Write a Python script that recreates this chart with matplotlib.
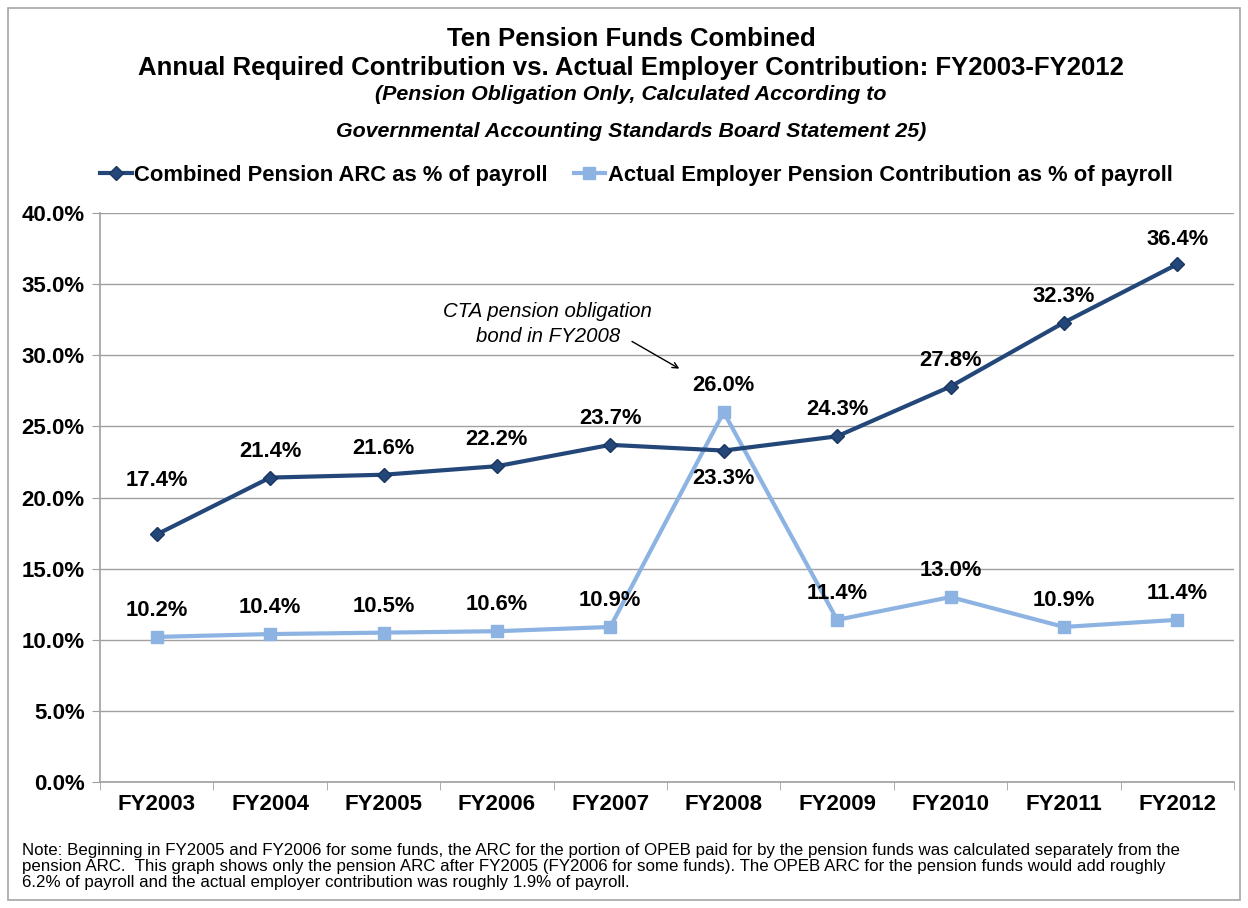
import matplotlib
matplotlib.use("Agg")
import matplotlib.pyplot as plt
from matplotlib.patches import Rectangle
from matplotlib.lines import Line2D
from matplotlib.ticker import FuncFormatter, FixedLocator

plt.rcParams['font.family'] = ['Liberation Sans', 'DejaVu Sans']

years = ["FY2003", "FY2004", "FY2005", "FY2006", "FY2007",
         "FY2008", "FY2009", "FY2010", "FY2011", "FY2012"]
arc = [17.4, 21.4, 21.6, 22.2, 23.7, 23.3, 24.3, 27.8, 32.3, 36.4]
actual = [10.2, 10.4, 10.5, 10.6, 10.9, 26.0, 11.4, 13.0, 10.9, 11.4]

# label offsets in points (most above, a couple moved by hand)
arc_off = [39, 19, 19, 19, 19, -20, 19, 19, 19, 18]
act_off = [19, 19, 19, 19, 19, 19, 19, 19, 19, 19]

dark = "#24477A"
light = "#8DB3E2"

fig = plt.figure(figsize=(12.48, 9.08), dpi=100)
fig.patches.append(Rectangle((8 / 1248, 8 / 908), 1232 / 1248, 892 / 908,
                             transform=fig.transFigure, fill=False,
                             edgecolor="#A6A6A6", linewidth=1.2))

ax = fig.add_axes([100 / 1248, 1 - 782 / 908, 1134 / 1248, (782 - 213) / 908])
x = list(range(len(years)))

ax.plot(x, actual, color=light, linewidth=3, marker="s", markersize=9,
        markerfacecolor=light, markeredgecolor=light, zorder=3)
ax.plot(x, arc, color=dark, linewidth=3, marker="D", markersize=7,
        markerfacecolor=dark, markeredgecolor="#1A3560", zorder=4)

for i in x:
    ax.annotate(f"{arc[i]:.1f}%", (i, arc[i]), xytext=(0, arc_off[i]),
                textcoords="offset points", ha="center", va="center",
                fontsize=15.8, fontweight="bold", color="black", zorder=5)
    ax.annotate(f"{actual[i]:.1f}%", (i, actual[i]), xytext=(0, act_off[i]),
                textcoords="offset points", ha="center", va="center",
                fontsize=15.8, fontweight="bold", color="black", zorder=5)

ax.set_xlim(-0.5, len(years) - 0.5)
ax.set_ylim(0, 40)
ax.yaxis.set_major_locator(FixedLocator([0, 5, 10, 15, 20, 25, 30, 35, 40]))
ax.yaxis.set_major_formatter(FuncFormatter(lambda v, p: f"{v:.1f}%"))
ax.set_xticks(x)
ax.set_xticklabels(years)
ax.set_xticks([i - 0.5 for i in range(len(years) + 1)], minor=True)
ax.tick_params(axis="x", which="major", length=0, pad=9)
ax.tick_params(axis="x", which="minor", length=6, color="#A0A0A0")
ax.tick_params(axis="y", length=6, color="#A0A0A0", pad=5)
for lab in ax.get_xticklabels() + ax.get_yticklabels():
    lab.set_fontsize(16)
    lab.set_fontweight("bold")

ax.grid(axis="y", color="#A0A0A0", linewidth=1)
ax.set_axisbelow(True)
for s in ["top", "right"]:
    ax.spines[s].set_visible(False)
for s in ["left", "bottom"]:
    ax.spines[s].set_color("#A0A0A0")
    ax.spines[s].set_linewidth(1.2)

# annotation for CTA bond
ax.annotate("", xy=(4.63, 28.96), xytext=(4.17, 31.07),
            arrowprops=dict(arrowstyle="->", color="black", lw=1))
ax.text(3.45, 32.2, "CTA pension obligation\nbond in FY2008", ha="center",
        va="center", fontsize=14.7, fontstyle="italic", linespacing=1.45)

# titles
cx = 631 / 1248
fig.text(cx, 1 - 39 / 908, "Ten Pension Funds Combined", ha="center",
         va="center", fontsize=18.5, fontweight="bold")
fig.text(cx, 1 - 68 / 908,
         "Annual Required Contribution vs. Actual Employer Contribution: FY2003-FY2012",
         ha="center", va="center", fontsize=18.5, fontweight="bold")
fig.text(cx, 1 - 95 / 908,
         "(Pension Obligation Only, Calculated According to",
         ha="center", va="center", fontsize=15.4, fontweight="bold", fontstyle="italic")
fig.text(cx, 1 - 131 / 908,
         "Governmental Accounting Standards Board Statement 25)",
         ha="center", va="center", fontsize=15.4, fontweight="bold", fontstyle="italic")

# legend
handles = [
    Line2D([], [], color=dark, linewidth=3, marker="D", markersize=7,
           markerfacecolor=dark, markeredgecolor="#1A3560"),
    Line2D([], [], color=light, linewidth=3, marker="s", markersize=9,
           markerfacecolor=light, markeredgecolor=light),
]
fig.legend(handles, ["Combined Pension ARC as % of payroll",
                     "Actual Employer Pension Contribution as % of payroll"],
           loc="center", bbox_to_anchor=(636 / 1248, 1 - 175 / 908), ncol=2,
           frameon=False, handlelength=1.45, handletextpad=0.1,
           columnspacing=1.2, prop={"size": 15.8, "weight": "bold"})

note_lines = [
    "Note: Beginning in FY2005 and FY2006 for some funds, the ARC for the portion of OPEB paid for by the pension funds was calculated separately from the",
    "pension ARC.  This graph shows only the pension ARC after FY2005 (FY2006 for some funds). The OPEB ARC for the pension funds would add roughly",
    "6.2% of payroll and the actual employer contribution was roughly 1.9% of payroll.",
]
for k, line in enumerate(note_lines):
    fig.text(22 / 1248, 1 - (850 + 16 * k) / 908, line, ha="left",
             va="center", fontsize=12.2)

fig.savefig("out.png", dpi=100)
